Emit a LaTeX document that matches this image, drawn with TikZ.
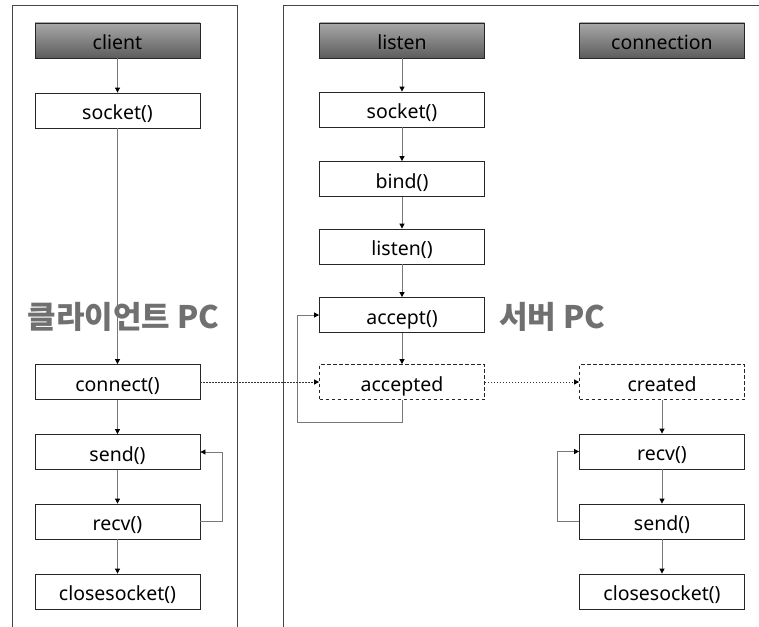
\documentclass[tikz,border=0pt]{standalone}
\usepackage{fontspec}
\setmainfont{Noto Sans}
\newfontfamily\krfont{Noto Sans CJK KR}
\usetikzlibrary{arrows.meta,calc}
\definecolor{headtop}{RGB}{168,168,168}
\definecolor{headbot}{RGB}{92,92,92}
\definecolor{linegray}{RGB}{120,120,120}
\definecolor{framegray}{RGB}{70,70,70}
\definecolor{pclabel}{RGB}{112,112,112}
\tikzset{
  box/.style={draw=black!85, line width=0.8pt, fill=white, minimum width=165pt,
    minimum height=35pt, inner sep=0pt, text height=18pt, text depth=0pt,
    font=\fontsize{19.5}{21}\selectfont},
  header/.style={box, top color=headtop, bottom color=headbot},
  dbox/.style={box, dashed, dash pattern=on 3.5pt off 2.5pt},
  conn/.style={draw=linegray, line width=0.8pt,
    -{Triangle[color=black, length=5pt, width=5pt]}},
  dconn/.style={conn, draw=black!80, dash pattern=on 1.5pt off 1.5pt},
  pc/.style={text=pclabel, font=\krfont\bfseries\fontsize{31}{34}\selectfont},
  frame/.style={draw=framegray, line width=0.8pt}
}
\begin{document}
\begin{tikzpicture}[x=1pt, y=-1pt]
  \useasboundingbox (0,0) rectangle (759,626);
  \fill[white] (0,0) rectangle (759,626);
  % panels
  \begin{scope}
    \clip (0,0) rectangle (759,626);
    \draw[frame] (12,700) -- (12,5) -- (237,5) -- (237,700);
    \draw[frame] (283,700) -- (283,5) -- (800,5);
  \end{scope}

  % client column
  \node[header] (client) at (117.5,40.5) {client};
  \node[box] (csocket) at (117.5,110.5) {socket()};
  \node[box] (connect) at (117.5,382) {connect()};
  \node[box] (csend) at (117.5,452) {send()};
  \node[box] (crecv) at (117.5,521.5) {recv()};
  \node[box] (cclose) at (117.5,591.5) {closesocket()};

  % listen column
  \node[header] (listen) at (402,40.5) {listen};
  \node[box] (lsocket) at (402,109.5) {socket()};
  \node[box] (bind) at (402,179) {bind()};
  \node[box] (llisten) at (402,246.5) {listen()};
  \node[box] (accept) at (402,315) {accept()};
  \node[dbox] (accepted) at (402,382) {accepted};

  % connection column
  \node[header] (connection) at (662,40.5) {connection};
  \node[dbox] (created) at (662,382) {created};
  \node[box] (srecv) at (662,451.5) {recv()};
  \node[box] (ssend) at (662,521.5) {send()};
  \node[box] (sclose) at (662,591.5) {closesocket()};

  % PC labels
  \node[pc] (clientpc) at (123.5,317) {클라이언트 PC};
  \node[pc] (serverpc) at (552.5,317) {서버 PC};

  % client flow
  \draw[conn] (client) -- (csocket);
  \draw[conn] (csocket) -- (connect);
  \draw[conn] (connect) -- (csend);
  \draw[conn] (csend) -- (crecv);
  \draw[conn] (crecv) -- (cclose);
  \coordinate (cloop) at (222,452);
  \draw[conn] (crecv.east) -| (cloop) -- (csend.east);

  % listen flow
  \draw[conn] (listen) -- (lsocket);
  \draw[conn] (lsocket) -- (bind);
  \draw[conn] (bind) -- (llisten);
  \draw[conn] (llisten) -- (accept);
  \draw[conn] (accept) -- (accepted);
  \coordinate (aloop) at (297,422);
  \draw[conn] (accepted.south) |- (aloop) |- (accept.west);

  % connection flow
  \draw[conn] (created) -- (srecv);
  \draw[conn] (srecv) -- (ssend);
  \draw[conn] (ssend) -- (sclose);
  \coordinate (sloop) at (557,451.5);
  \draw[conn] (ssend.west) -| (sloop) -- (srecv.west);

  % messages between columns
  \draw[dconn] (connect.east) -- (accepted.west);
  \draw[dconn] (accepted.east) -- (created.west);
\end{tikzpicture}
\end{document}
